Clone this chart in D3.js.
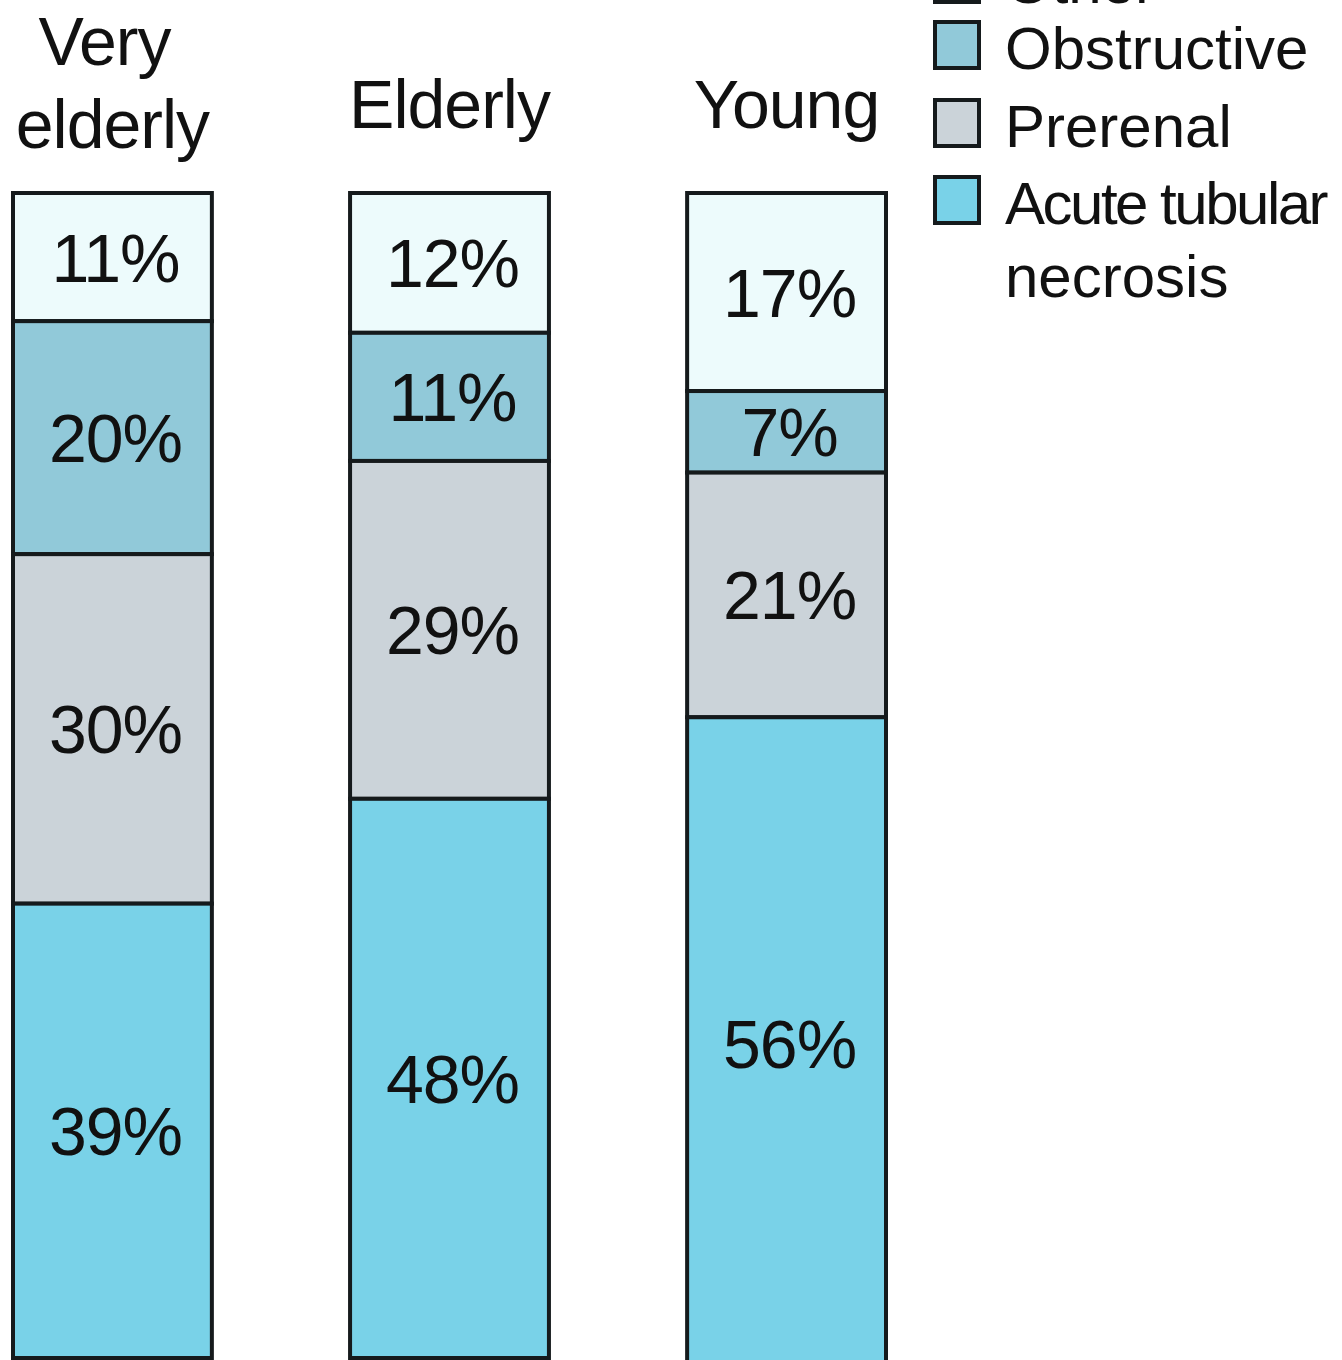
<!DOCTYPE html>
<html>
<head>
<meta charset="utf-8">
<script src="https://cdn.jsdelivr.net/npm/d3@7/dist/d3.min.js"></script>
<style>
  html, body { margin: 0; padding: 0; background: #ffffff; }
  svg { display: block; }
  text { font-family: "Liberation Sans", Arial, Helvetica, sans-serif; fill: #111; }
</style>
</head>
<body>
<svg id="chart" width="1342" height="1360"></svg>
<script>
// Age groups (columns) and their heading lines
const groups = ["Very elderly", "Elderly", "Young"];
const groupTitleLines = [["Very", "elderly"], ["Elderly"], ["Young"]];

// Causes, stacked from the top of each column downward
const causes = ["Other", "Obstructive", "Prerenal", "Acute tubular necrosis"];
const causeLegendLines = [["Other"], ["Obstructive"], ["Prerenal"], ["Acute tubular", "necrosis"]];
const causeColors = ["#edfbfc", "#91c9d9", "#cbd3d9", "#79d2e8"];

// Percentage of each cause per age group
const otherPct       = [11, 12, 17];
const obstructivePct = [20, 11, 7];
const prerenalPct    = [30, 29, 21];
const atnPct         = [39, 48, 56];

const rows = groups.map((g, i) => ({
  group: g,
  "Other": otherPct[i],
  "Obstructive": obstructivePct[i],
  "Prerenal": prerenalPct[i],
  "Acute tubular necrosis": atnPct[i]
}));

const svg = d3.select("#chart");

const x = d3.scaleBand()
  .domain(groups)
  .range([13, 886])
  .paddingInner(0.41)
  .paddingOuter(0);

// 0% at the top of the columns, 100% at the bottom
const y = d3.scaleLinear().domain([0, 100]).range([193, 1358]);

const color = d3.scaleOrdinal().domain(causes).range(causeColors);

const series = d3.stack().keys(causes)(rows);

const layers = svg.append("g").selectAll("g")
  .data(series)
  .join("g")
  .attr("fill", d => color(d.key));

layers.selectAll("rect")
  .data(d => d.map(p => ({ key: d.key, p })))
  .join("rect")
  .attr("x", d => x(d.p.data.group))
  .attr("y", d => y(d.p[0]))
  .attr("width", x.bandwidth())
  .attr("height", d => y(d.p[1]) - y(d.p[0]))
  .attr("stroke", "#151a1c")
  .attr("stroke-width", 4);

// Percentage labels inside each segment
layers.selectAll("text")
  .data(d => d.map(p => ({ key: d.key, p })))
  .join("text")
  .attr("x", d => x(d.p.data.group) + x.bandwidth() / 2 + 3)
  .attr("y", d => (y(d.p[0]) + y(d.p[1])) / 2)
  .attr("dy", "0.36em")
  .attr("text-anchor", "middle")
  .attr("font-size", 68)
  .attr("letter-spacing", -1)
  .attr("fill", "#111")
  .text(d => (d.p[1] - d.p[0]) + "%");

// Column headings
const titleBaselines = [[65, 148], [128], [128]];
groups.forEach((g, i) => {
  const t = svg.append("text")
    .attr("text-anchor", "middle")
    .attr("font-size", 68)
    .attr("letter-spacing", -1);
  groupTitleLines[i].forEach((line, j) => {
    t.append("tspan")
      .attr("x", x(g) + x.bandwidth() / 2 + (groupTitleLines[i].length > 1 && j === 0 ? -8 : 0))
      .attr("y", titleBaselines[i][j])
      .text(line);
  });
});

// Legend
const legendTops = [-44, 22, 100, 177];
const legend = svg.append("g");
causes.forEach((c, i) => {
  legend.append("rect")
    .attr("x", 935)
    .attr("y", legendTops[i])
    .attr("width", 44)
    .attr("height", 46)
    .attr("fill", color(c))
    .attr("stroke", "#151a1c")
    .attr("stroke-width", 4);
  const t = legend.append("text")
    .attr("font-size", 60);
  causeLegendLines[i].forEach((line, j) => {
    t.append("tspan")
      .attr("x", 1005)
      .attr("y", legendTops[i] + 47 + j * 73)
      .attr("letter-spacing", line.includes(" ") ? -2.5 : 0)
      .text(line);
  });
});
</script>
</body>
</html>
